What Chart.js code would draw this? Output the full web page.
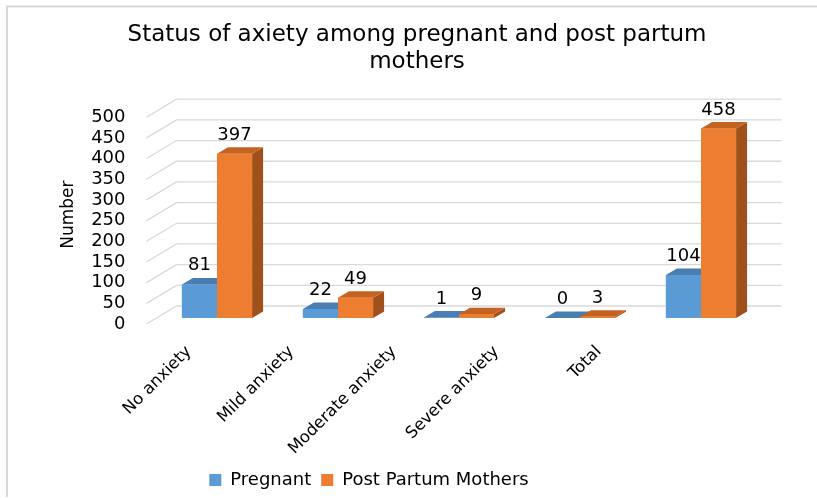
<!DOCTYPE html>
<html>
<head>
<meta charset="utf-8">
<script src="https://cdn.jsdelivr.net/npm/chart.js@4.4.1/dist/chart.umd.min.js"></script>
<style>
  html, body { margin: 0; padding: 0; background: #fff; }
  #wrap { width: 817px; height: 499px; position: relative; }
</style>
</head>
<body>
<div id="wrap"><canvas id="chart"></canvas></div>
<script>
'use strict';

const categories = ['No anxiety', 'Mild anxiety', 'Moderate anxiety', 'Severe anxiety', 'Total'];
const pregnant = [81, 22, 1, 0, 104];
const postPartum = [397, 49, 9, 3, 458];
const yMax = 500;
const yStep = 50;

// depth of the bars and of the back wall (3d look)
const BAR_DX = 11, BAR_DY = 6.5;
const WALL_FRONT = { dx: -10, dy: 6 };
const WALL_BACK = { dx: 20, dy: -12 };

Chart.defaults.font.family = 'DejaVu Sans';
Chart.defaults.color = '#000';

const threeD = {
  id: 'threeD',
  afterLayout(chart) {
    // legend sits left of the centre in the original
    chart.legend.left -= 48;
    chart.legend.right -= 48;
  },
  beforeDraw(chart) {
    const ctx = chart.ctx;
    ctx.save();
    ctx.strokeStyle = '#d9d9d9';
    ctx.lineWidth = 2;
    ctx.beginPath();
    ctx.moveTo(7, 497);
    ctx.lineTo(7, 6.5);
    ctx.lineTo(817, 6.5);
    ctx.stroke();
    ctx.restore();
  },
  beforeDatasetsDraw(chart) {
    const { ctx, chartArea: a, scales: { y } } = chart;
    ctx.save();
    ctx.strokeStyle = '#d9d9d9';
    ctx.lineWidth = 1.3;
    y.ticks.forEach(t => {
      const py = y.getPixelForValue(t.value);
      ctx.beginPath();
      ctx.moveTo(a.left + WALL_FRONT.dx, py + WALL_FRONT.dy);
      ctx.lineTo(a.left + WALL_BACK.dx, py + WALL_BACK.dy);
      ctx.lineTo(a.right + WALL_BACK.dx, py + WALL_BACK.dy);
      ctx.stroke();
    });
    ctx.restore();
  },
  afterDatasetsDraw(chart) {
    const ctx = chart.ctx;
    ctx.save();
    chart.data.datasets.forEach((ds, i) => {
      const meta = chart.getDatasetMeta(i);
      meta.data.forEach(bar => {
        const { x, y, base, width } = bar.getProps(['x', 'y', 'base', 'width'], true);
        const l = x - width / 2, r = x + width / 2;
        ctx.fillStyle = ds.sideColor;
        ctx.beginPath();
        ctx.moveTo(r, y);
        ctx.lineTo(r + BAR_DX, y - BAR_DY);
        ctx.lineTo(r + BAR_DX, base - BAR_DY);
        ctx.lineTo(r, base);
        ctx.closePath();
        ctx.fill();
        ctx.fillStyle = ds.topColor;
        ctx.beginPath();
        ctx.moveTo(l, y);
        ctx.lineTo(r, y);
        ctx.lineTo(r + BAR_DX, y - BAR_DY);
        ctx.lineTo(l + BAR_DX, y - BAR_DY);
        ctx.closePath();
        ctx.fill();
        bar.draw(ctx);
      });
    });
    // value labels
    ctx.fillStyle = '#000';
    ctx.font = '18px "DejaVu Sans"';
    ctx.textAlign = 'center';
    ctx.textBaseline = 'alphabetic';
    chart.data.datasets.forEach((ds, i) => {
      chart.getDatasetMeta(i).data.forEach((bar, j) => {
        ctx.fillText(String(ds.data[j]), bar.x, bar.y - 14);
      });
    });
    ctx.restore();
  },
  afterDraw(chart) {
    // category labels on the front edge of the floor
    const { ctx, scales: { x } } = chart;
    const first = x.getPixelForValue(0);
    ctx.save();
    ctx.fillStyle = '#000';
    ctx.font = '16.5px "DejaVu Sans"';
    ctx.textAlign = 'right';
    ctx.textBaseline = 'middle';
    categories.forEach((c, i) => {
      const cx = x.getPixelForValue(i);
      const ex = first - 28 + (cx - first) * 0.847;
      ctx.save();
      ctx.translate(ex, x.top + 31);
      ctx.rotate(-Math.PI / 4);
      ctx.fillText(c, 0, 0);
      ctx.restore();
    });
    ctx.restore();
  }
};

new Chart(document.getElementById('chart'), {
  type: 'bar',
  data: {
    labels: categories,
    datasets: [
      {
        label: 'Pregnant',
        data: pregnant,
        backgroundColor: '#5b9bd5',
        topColor: '#4a7db0',
        sideColor: '#3f6d99',
        borderWidth: 0
      },
      {
        label: 'Post Partum Mothers',
        data: postPartum,
        backgroundColor: '#ed7d31',
        topColor: '#c4631f',
        sideColor: '#a0501b',
        borderWidth: 0
      }
    ]
  },
  options: {
    responsive: true,
    maintainAspectRatio: false,
    animation: false,
    layout: { padding: { left: 17, right: 0, top: 0, bottom: 0 } },
    datasets: { bar: { categoryPercentage: 0.58, barPercentage: 1 } },
    plugins: {
      title: {
        display: true,
        text: ['Status of axiety among pregnant and post partum', 'mothers'],
        font: { size: 23, weight: 'normal', lineHeight: 1.2 },
        color: '#000',
        padding: { top: 21, bottom: 35 }
      },
      legend: {
        position: 'bottom',
        labels: { boxWidth: 12, boxHeight: 12, font: { size: 18 }, color: '#000', padding: 10 }
      },
      tooltip: { enabled: false }
    },
    scales: {
      x: {
        grid: { display: false },
        border: { display: false },
        ticks: { display: false },
        afterFit(s) { s.height = 143; }
      },
      y: {
        min: 0,
        max: yMax,
        grid: { display: false, drawTicks: false },
        border: { display: false },
        ticks: { stepSize: yStep, autoSkip: false, padding: 31, labelOffset: 6, font: { size: 18 }, color: '#000' },
        title: { display: true, text: 'Number', font: { size: 17 }, color: '#000', padding: { top: 41, bottom: 0 } },
        afterFit(s) { s.width = 139.5; }
      },
      y2: {
        position: 'right',
        grid: { display: false },
        border: { display: false },
        ticks: { display: false },
        afterFit(s) { s.width = 55.5; }
      }
    }
  },
  plugins: [threeD]
});
</script>
</body>
</html>
